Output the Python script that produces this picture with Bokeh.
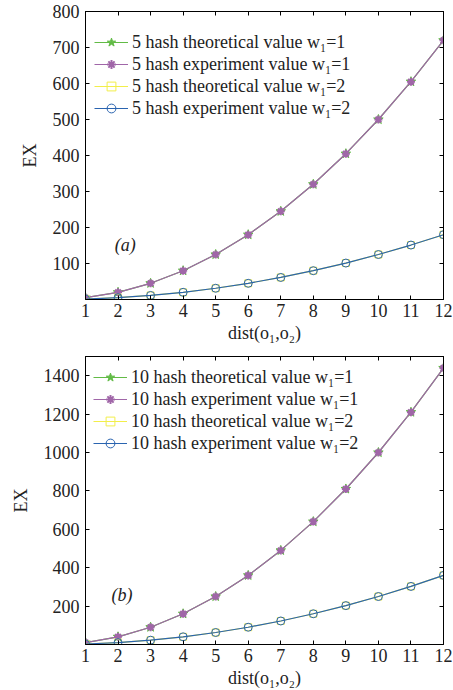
from bokeh.plotting import figure
from bokeh.layouts import column
from bokeh.models import FixedTicker, LinearAxis, Legend, LegendItem, Label, Range1d
from bokeh.embed import file_html
from bokeh.resources import INLINE

# distance between objects
dist = [1, 2, 3, 4, 5, 6, 7, 8, 9, 10, 11, 12]

# 5 hash functions
h5_theory_w1 = [5, 20, 45, 80, 125, 180, 245, 320, 405, 500, 605, 720]
h5_exp_w1 = [5, 20, 45, 80, 125, 180, 245, 320, 405, 500, 605, 720]
h5_theory_w2 = [1.25, 5, 11.25, 20, 31.25, 45, 61.25, 80, 101.25, 125, 151.25, 180]
h5_exp_w2 = [1.25, 5, 11.25, 20, 31.25, 45, 61.25, 80, 101.25, 125, 151.25, 180]

# 10 hash functions
h10_theory_w1 = [10, 40, 90, 160, 250, 360, 490, 640, 810, 1000, 1210, 1440]
h10_exp_w1 = [10, 40, 90, 160, 250, 360, 490, 640, 810, 1000, 1210, 1440]
h10_theory_w2 = [2.5, 10, 22.5, 40, 62.5, 90, 122.5, 160, 202.5, 250, 302.5, 360]
h10_exp_w2 = [2.5, 10, 22.5, 40, 62.5, 90, 122.5, 160, 202.5, 250, 302.5, 360]

x_ticks = dist
y_ticks_a = [100, 200, 300, 400, 500, 600, 700, 800]
y_ticks_b = [200, 400, 600, 800, 1000, 1200, 1400]

FONT = "Liberation Serif"
TEXT = "#222222"
GREEN = "#62bb46"
PURPLE = "#a066a8"
YELLOW = "#f2ee4a"
BLUE = "#2a64b0"


def style_axis(ax, ticks, labels=True):
    ax.ticker = FixedTicker(ticks=ticks)
    ax.major_tick_in = 4
    ax.major_tick_out = 0
    ax.minor_tick_line_color = None
    ax.axis_line_color = "black"
    ax.major_tick_line_color = "black"
    ax.major_label_text_font = FONT
    if labels:
        ax.major_label_text_font_size = "18px"
        ax.major_label_text_color = TEXT
    else:
        # tick marks only on the mirrored axes
        ax.major_label_text_color = None
        ax.major_label_text_font_size = "0px"
        ax.major_label_standoff = 0


def make_panel(n, theory_w1, exp_w1, theory_w2, exp_w2, ymax, yticks, tag,
               tag_x, tag_y, border_left, border_right, leg_loc):
    p = figure(width=453, height=345, output_backend="svg", toolbar_location=None,
               x_range=Range1d(1, 12), y_range=Range1d(0, ymax),
               min_border_left=border_left, min_border_right=border_right,
               min_border_top=11, min_border_bottom=10)
    p.grid.grid_line_color = None
    p.outline_line_color = "black"
    p.background_fill_color = "white"
    p.border_fill_color = "white"

    style_axis(p.xaxis[0], x_ticks)
    style_axis(p.yaxis[0], yticks)
    p.xaxis[0].major_label_standoff = 4
    p.yaxis[0].major_label_standoff = 6
    p.xaxis[0].axis_label = "dist(o\u2081,o\u2082)"
    p.yaxis[0].axis_label = "EX"
    for ax in (p.xaxis[0], p.yaxis[0]):
        ax.axis_label_text_font = FONT
        ax.axis_label_text_font_style = "normal"
        ax.axis_label_text_font_size = "18px"
        ax.axis_label_text_color = TEXT
    p.xaxis[0].axis_label_standoff = 3
    p.yaxis[0].axis_label_standoff = 10

    top = LinearAxis()
    style_axis(top, x_ticks, labels=False)
    p.add_layout(top, "above")
    right = LinearAxis()
    style_axis(right, yticks, labels=False)
    p.add_layout(right, "right")

    g1 = p.line(dist, theory_w1, color=GREEN, line_width=1.2)
    m1 = p.scatter(dist, theory_w1, marker="star", size=10, line_color=GREEN,
                   fill_color=GREEN)
    g2 = p.line(dist, exp_w1, color=PURPLE, line_width=1.2)
    m2 = p.scatter(dist, exp_w1, marker="asterisk", size=8, line_color=PURPLE,
                   line_width=2)
    g3 = p.line(dist, theory_w2, color=YELLOW, line_width=1.2)
    m3 = p.scatter(dist, theory_w2, marker="square", size=7, line_color=YELLOW,
                   fill_color=None)
    g4 = p.line(dist, exp_w2, color=BLUE, line_width=1.2)
    m4 = p.scatter(dist, exp_w2, marker="circle", size=8, line_color=BLUE,
                   fill_color=None)

    items = [
        LegendItem(label=f"{n} hash theoretical value w\u2081=1", renderers=[g1, m1]),
        LegendItem(label=f"{n} hash experiment value w\u2081=1", renderers=[g2, m2]),
        LegendItem(label=f"{n} hash theoretical value w\u2081=2", renderers=[g3, m3]),
        LegendItem(label=f"{n} hash experiment value w\u2081=2", renderers=[g4, m4]),
    ]
    leg = Legend(items=items, location=leg_loc, border_line_color=None,
                 background_fill_alpha=0, padding=0, margin=0, spacing=0,
                 glyph_width=34, glyph_height=22, label_height=22,
                 label_standoff=4, label_text_font=FONT,
                 label_text_font_size="18px", label_text_color=TEXT)
    p.add_layout(leg, "center")

    p.add_layout(Label(x=tag_x, y=tag_y, text=tag, text_font=FONT,
                       text_font_style="italic", text_font_size="18px",
                       text_color=TEXT, text_align="center",
                       text_baseline="middle"))
    return p


pa = make_panel(5, h5_theory_w1, h5_exp_w1, h5_theory_w2, h5_exp_w2, 800,
                y_ticks_a, "(a)", 2.22, 151, 76, 8, (9, 180))
pb = make_panel(10, h10_theory_w1, h10_exp_w1, h10_theory_w2, h10_exp_w2, 1500,
                y_ticks_b, "(b)", 2.12, 257, 85, 10, (8, 190))

layout = column(pa, pb, spacing=0)
open("out.html", "w").write(file_html(layout, INLINE))
